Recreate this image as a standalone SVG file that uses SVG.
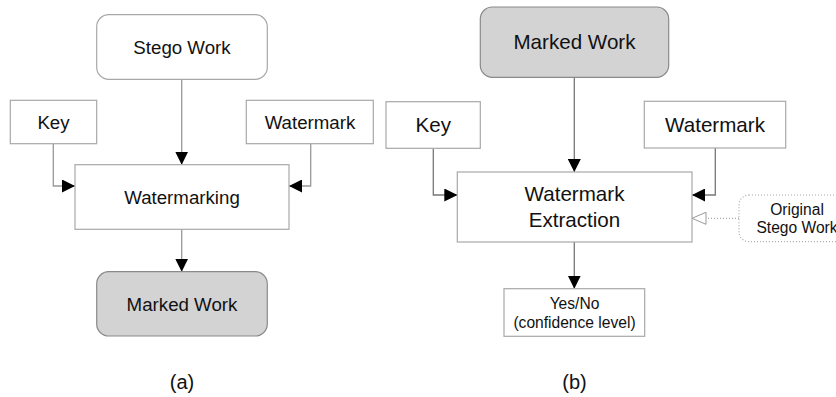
<svg xmlns="http://www.w3.org/2000/svg" width="836" height="397" viewBox="0 0 836 397">
<style>
text{font-family:"Liberation Sans",Arial,sans-serif;fill:#111;text-anchor:middle}
.box{fill:#fff;stroke:#a8a8a8;stroke-width:1.2}
.grey{fill:#d3d3d3;stroke:#8a8a8a;stroke-width:1.2}
.dot{fill:#fff;stroke:#aaa;stroke-width:1.2;stroke-dasharray:1 2}
.ln{fill:none;stroke:#999;stroke-width:1.3}
.ln2{fill:none;stroke:#777;stroke-width:1.3}
.lnd{fill:none;stroke:#aaa;stroke-width:1.2;stroke-dasharray:1 2}
.a{font-size:18.7px}
.b{font-size:20.6px}
.s{font-size:15.6px}
</style>
<defs>
<marker id="ah" markerWidth="13" markerHeight="13" refX="13" refY="6.5" orient="auto" markerUnits="userSpaceOnUse">
<path d="M0,0 L13,6.5 L0,13 Z" fill="#000"/>
</marker>
<marker id="ho" markerWidth="16" markerHeight="14" refX="15" refY="7" orient="auto" markerUnits="userSpaceOnUse">
<path d="M1,1 L15,7 L1,13 Z" fill="#fff" stroke="#999" stroke-width="1"/>
</marker>
</defs>
<g id="connectors">
<path class="ln" d="M181.7,79.3 V164.7" marker-end="url(#ah)"/>
<path class="ln" d="M53.3,143.7 V186 H75" marker-end="url(#ah)"/>
<path class="ln" d="M310.7,143.7 V186 H289" marker-end="url(#ah)"/>
<path class="ln" d="M181.7,229.3 V271.7" marker-end="url(#ah)"/>
<path class="ln2" d="M574.3,77.3 V172" marker-end="url(#ah)"/>
<path class="ln2" d="M433.3,148.3 V195 H457.3" marker-end="url(#ah)"/>
<path class="ln2" d="M715.3,148 V195 H692" marker-end="url(#ah)"/>
<path class="lnd" d="M739,218.3 H692" marker-end="url(#ho)"/>
<path class="ln2" d="M574.3,242 V288.7" marker-end="url(#ah)"/>
</g>
<g id="stego-work-a">
<rect class="box" x="96.7" y="14.7" width="170.6" height="64.6" rx="12"/>
<text class="a" x="182" y="54">Stego Work</text>
</g>
<g id="key-a">
<rect class="box" x="10.3" y="100.3" width="86.4" height="43.4"/>
<text class="a" x="53.5" y="128.5">Key</text>
</g>
<g id="watermark-a">
<rect class="box" x="246.3" y="100.3" width="127" height="43.4"/>
<text class="a" x="310" y="128.5">Watermark</text>
</g>
<g id="watermarking">
<rect class="box" x="75" y="164.7" width="214" height="64.6"/>
<text class="a" x="182" y="203.5">Watermarking</text>
</g>
<g id="marked-work-a">
<rect class="grey" x="96.7" y="271.7" width="170.6" height="64.3" rx="12"/>
<text class="a" x="182" y="311">Marked Work</text>
</g>
<text x="182" y="388.5" style="font-size:20px">(a)</text>
<g id="marked-work-b">
<rect class="grey" x="480.3" y="7" width="188.4" height="70.3" rx="12"/>
<text class="b" x="574.5" y="49">Marked Work</text>
</g>
<g id="key-b">
<rect class="box" x="386" y="101.7" width="94.3" height="46.6"/>
<text class="b" x="433.3" y="132">Key</text>
</g>
<g id="watermark-b">
<rect class="box" x="644.3" y="101.3" width="141.4" height="46.7"/>
<text class="b" x="715" y="132">Watermark</text>
</g>
<g id="watermark-extraction">
<rect class="box" x="457.3" y="172" width="234.7" height="70"/>
<text class="b" x="574.5" y="200.5">Watermark</text>
<text class="b" x="574.5" y="226.5">Extraction</text>
</g>
<g id="original-stego-work">
<rect class="dot" x="739" y="195" width="120" height="46.7" rx="10"/>
<text class="s" x="797" y="214.5">Original</text>
<text class="s" x="797" y="233.2">Stego Work</text>
</g>
<g id="yes-no">
<rect class="box" x="504" y="288.7" width="140.7" height="47.6"/>
<text class="s" x="574.5" y="308.8">Yes/No</text>
<text class="s" x="574.5" y="327.8">(confidence level)</text>
</g>
<text x="574.5" y="388.5" style="font-size:20px">(b)</text>
</svg>
